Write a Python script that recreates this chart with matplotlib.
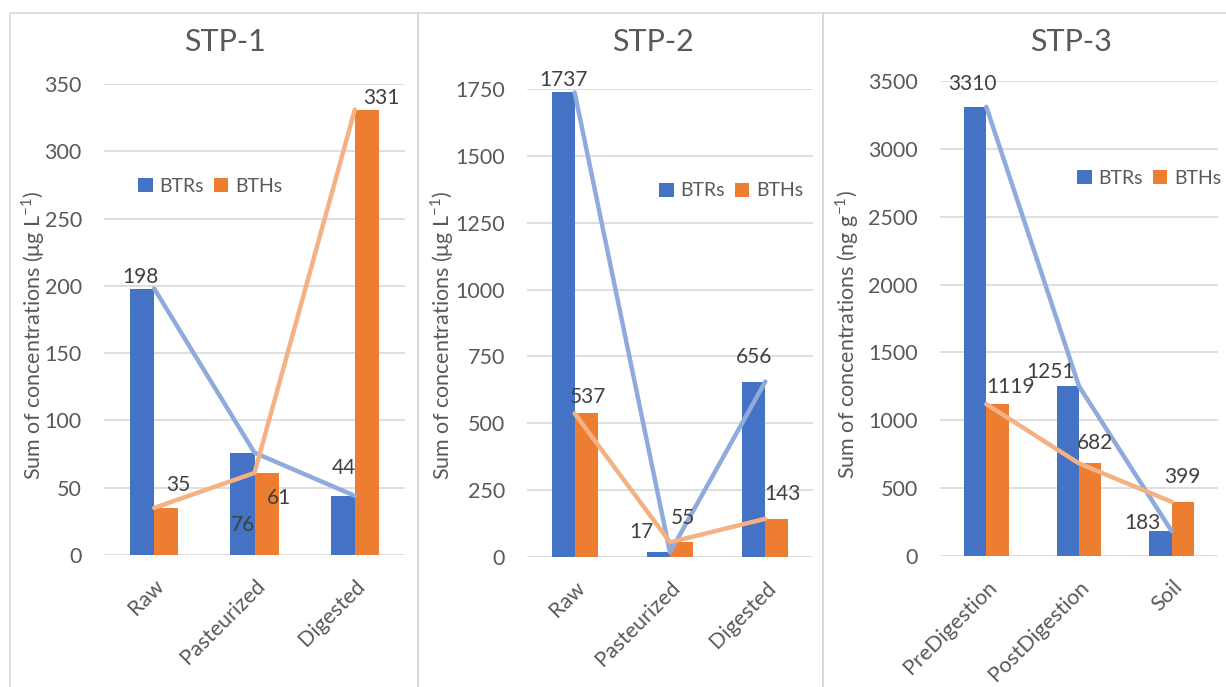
import matplotlib
matplotlib.use("Agg")
import matplotlib.pyplot as plt
import numpy as np
from matplotlib.patches import Rectangle

plt.rcParams['font.family'] = ['Lato', 'DejaVu Sans']
plt.rcParams['mathtext.fontset'] = 'custom'
plt.rcParams['mathtext.rm'] = 'Lato'

# data
titles = ["STP-1", "STP-2", "STP-3"]
cats_12 = ["Raw", "Pasteurized", "Digested"]
cats_3 = ["PreDigestion", "PostDigestion", "Soil"]
btrs_1 = [198, 76, 44]
bths_1 = [35, 61, 331]
btrs_2 = [1737, 17, 656]
bths_2 = [537, 55, 143]
btrs_3 = [3310, 1251, 183]
bths_3 = [1119, 682, 399]
ymax = [350, 1750, 3500]
ystep = [50, 250, 500]
ylabels = [r"Sum of concentrations (μg L$^{\mathregular{-1}}$)",
           r"Sum of concentrations (μg L$^{\mathregular{-1}}$)",
           r"Sum of concentrations (ng g$^{\mathregular{-1}}$)"]

# label offsets in pixels (blue, orange) per category
offs_btr = [[(-2, 12), (1, -72), (1, 28)],
            [(0, 12), (-17, 20), (0, 25)],
            [(-3, 23), (-17, 14), (-18, 8)]]
offs_bth = [[(12, 23), (12, -25), (14, 12)],
            [(2, 16), (1, 24), (6, 25)],
            [(13, 17), (5, 20), (0, 25)]]

BLUE = '#4472c4'
ORANGE = '#ed7d31'
LBLUE = '#8faadc'
LORANGE = '#f4b183'
GRID = '#d9d9d9'
TXT = '#595959'

W, H = 1226, 687
fig = plt.figure(figsize=(W / 100, H / 100), dpi=100)

# panel frames
for x0, x1 in [(10, 418), (418, 823), (823, 1240)]:
    fig.add_artist(Rectangle((x0 / W, -0.05), (x1 - x0) / W, 1 - 13 / H + 0.05,
                             transform=fig.transFigure, fill=False,
                             edgecolor=GRID, lw=1.2))

ax_px = [(104, 405, 84, 555), (527, 813, 89, 557), (940, 1218, 81, 556)]
title_x = [225, 653, 1071]
leg_pos = [(138, 186), (659, 191), (1077, 178)]
ylab_x = [33, 442, 847]

data = [(cats_12, btrs_1, bths_1), (cats_12, btrs_2, bths_2), (cats_3, btrs_3, bths_3)]

for k in range(3):
    l, r, t, b = ax_px[k]
    ax = fig.add_axes([l / W, 1 - b / H, (r - l) / W, (b - t) / H])
    cats, btr, bth = data[k]
    x = np.arange(len(cats))
    bw = 0.24
    ax.bar(x - bw / 2, btr, bw, color=BLUE, label='BTRs', zorder=2)
    ax.bar(x + bw / 2, bth, bw, color=ORANGE, label='BTHs', zorder=2)
    ax.plot(x, btr, color=LBLUE, lw=3.2, solid_capstyle='round', zorder=3)
    ax.plot(x, bth, color=LORANGE, lw=3.2, solid_capstyle='round', zorder=3)

    for i in range(len(cats)):
        ax.annotate(str(btr[i]), (x[i] - bw / 2, btr[i]), xytext=offs_btr[k][i],
                    textcoords='offset pixels', ha='center', va='center',
                    fontsize=15, color='#404040', zorder=4)
        ax.annotate(str(bth[i]), (x[i] + bw / 2, bth[i]), xytext=offs_bth[k][i],
                    textcoords='offset pixels', ha='center', va='center',
                    fontsize=15, color='#404040', zorder=4)

    ax.set_xlim(-0.5, len(cats) - 0.5)
    ax.set_ylim(0, ymax[k])
    ax.set_yticks(np.arange(0, ymax[k] + 1, ystep[k]))
    ax.set_xticks(x)
    ax.set_xticklabels(cats, rotation=45, ha='right', va='top',
                       rotation_mode='anchor', fontsize=15.5, color=TXT)
    ax.tick_params(axis='y', labelsize=15.5, labelcolor=TXT, length=0, pad=16)
    ax.tick_params(axis='x', length=0, pad=15)
    ax.grid(axis='y', color=GRID, lw=1.2, zorder=0)
    ax.set_axisbelow(True)
    for s in ax.spines.values():
        s.set_visible(False)

    ax.set_ylabel(ylabels[k], fontsize=15.5, color=TXT, va='center')
    ax.yaxis.set_label_coords((ylab_x[k] - l) / (r - l), (b - 335) / (b - t))

    fig.text(title_x[k] / W, 1 - 42 / H, titles[k], fontsize=22, color=TXT,
             ha='center', va='center')

    lx, ly = leg_pos[k]
    ax.legend(loc='center left', bbox_to_anchor=(lx / W, 1 - ly / H),
              bbox_transform=fig.transFigure, ncol=2, frameon=False,
              fontsize=14, handlelength=0.75, handleheight=0.75,
              handletextpad=0.35, columnspacing=0.5, borderpad=0,
              borderaxespad=0, labelcolor=TXT)

fig.savefig('out.png', dpi=100)
